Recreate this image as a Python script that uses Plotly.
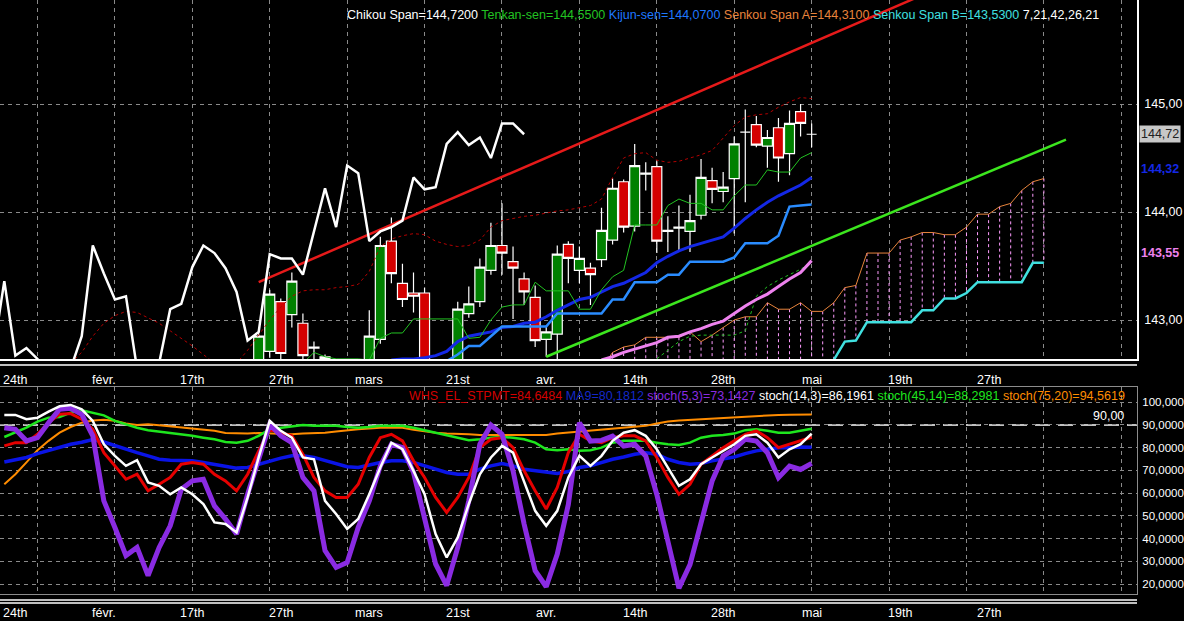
import plotly.graph_objects as go

# ---------------- price panel (x = bar number) ----------------
first_bar = 23
opens = [142.55, 142.71, 143.17, 143.05, 142.97, 142.75, 142.66, 142.55, 142.45, 142.50,
         142.50, 142.82, 143.73, 143.34, 143.25, 143.25, 142.55, 142.50, 142.55, 143.06,
         143.17, 143.46, 143.69, 143.54, 143.38, 143.21, 142.82, 142.87, 143.70, 143.46,
         143.48, 143.56, 143.74, 144.28, 143.87, 144.35, 144.42, 143.83, 143.85, 143.82,
         143.97, 144.29, 144.19, 144.31, 144.74, 144.81, 144.61, 144.78, 144.54, 144.93,
         144.72]
highs = [142.90, 143.28, 143.20, 143.44, 143.06, 142.80, 142.68, 142.60, 142.58, 142.62,
         143.09, 143.77, 143.95, 143.52, 143.44, 143.30, 142.62, 142.63, 143.17, 143.31,
         143.57, 143.90, 144.08, 143.68, 143.44, 143.32, 142.95, 143.69, 143.73, 143.68,
         143.53, 144.04, 144.31, 144.30, 144.63, 144.46, 144.47, 143.96, 144.06, 144.16,
         144.49, 144.41, 144.37, 144.70, 144.95, 144.89, 144.76, 144.87, 144.94, 145.00,
         144.82]
lows = [142.50, 142.65, 142.62, 142.93, 142.60, 142.62, 142.55, 142.40, 142.35, 142.40,
        142.45, 142.78, 143.34, 143.12, 143.07, 142.45, 142.40, 142.45, 142.50, 143.02,
        143.12, 143.42, 143.42, 143.01, 143.14, 142.75, 142.66, 142.62, 143.34, 143.34,
        143.14, 143.49, 143.70, 143.81, 143.82, 144.20, 143.62, 143.63, 143.63, 143.63,
        143.93, 144.08, 144.09, 143.80, 144.09, 144.60, 144.41, 144.28, 144.34, 144.70,
        144.60]
closes = [142.85, 143.24, 142.69, 143.36, 142.67, 142.74, 142.64, 142.45, 142.50, 142.55,
          142.85, 143.69, 143.43, 143.19, 143.22, 142.55, 142.50, 142.60, 143.10, 143.15,
          143.49, 143.69, 143.62, 143.48, 143.26, 142.81, 142.89, 143.61, 143.57, 143.57,
          143.42, 143.83, 144.22, 143.86, 144.43, 144.36, 143.73, 143.82, 143.86, 143.92,
          144.32, 144.21, 144.23, 144.63, 144.74, 144.62, 144.69, 144.50, 144.82, 144.82,
          144.72]
chikou_lag = 26

tenkan_start = 26
tenkan = [142.55, 142.60, 142.70, 142.66, 142.64, 142.64, 142.64, 142.63,
          142.83, 142.88, 142.88, 143.01, 143.01, 143.01, 143.01, 143.01,
          142.83, 142.84, 143.00, 143.12, 143.14, 143.14, 143.35, 143.27,
          143.27, 143.27, 143.10, 143.10, 143.28, 143.40, 143.46, 143.88,
          143.88, 143.88, 144.06, 144.12, 144.08, 144.08, 144.02, 144.02,
          144.15, 144.25, 144.25, 144.39, 144.37, 144.37, 144.50, 144.55]
kijun_start = 38
kijun = [142.55, 142.58, 142.62, 142.68, 142.76, 142.76, 142.85, 142.94,
         142.94, 142.94, 142.94, 142.94, 143.06, 143.06, 143.06, 143.06,
         143.06, 143.19, 143.19, 143.35, 143.35, 143.35, 143.42, 143.42,
         143.54, 143.54, 143.54, 143.54, 143.58, 143.71, 143.71, 143.71,
         143.78, 144.05, 144.06, 144.07]
ma_blue_start = 35
ma_blue = [142.63, 142.64, 142.64, 142.65, 142.67, 142.71, 142.80, 142.85,
           142.87, 142.89, 142.93, 142.94, 142.97, 142.98, 143.03, 143.09,
           143.14, 143.19, 143.21, 143.26, 143.31, 143.34, 143.39, 143.44,
           143.53, 143.59, 143.64, 143.68, 143.71, 143.74, 143.77, 143.85,
           143.94, 144.02, 144.09, 144.15, 144.20, 144.25, 144.32]
ma_pink_start = 54
ma_pink = [142.63, 142.66, 142.70, 142.73, 142.76, 142.79, 142.84, 142.85, 142.89, 142.92,
           142.96, 142.99, 143.06, 143.13, 143.19, 143.24, 143.31, 143.38, 143.44, 143.55]
band_red_start = 6
band_red = [142.60, 142.70, 142.85, 142.97, 143.04, 143.08, 143.07, 143.02,
            142.97, 142.90, 142.83, 142.76, 142.68, 142.60, 142.55, 142.60,
            142.72, 142.86, 143.00, 143.12, 143.22, 143.27, 143.28, 143.28,
            143.30, 143.31, 143.33, 143.45, 143.68, 143.75, 143.78, 143.80,
            143.79, 143.73, 143.70, 143.68, 143.69, 143.74, 143.86, 143.92,
            143.94, 143.96, 143.97, 143.99, 144.01, 144.02, 144.04, 144.06,
            144.12, 144.32, 144.50, 144.54, 144.55, 144.48, 144.46, 144.47,
            144.50, 144.53, 144.57, 144.68, 144.80, 144.88, 144.90, 144.91,
            144.97, 145.02, 145.06, 145.05]
band_green_start = 58
band_green = [142.60, 142.64, 142.72, 142.80, 142.85, 142.86, 142.86, 142.86,
              142.86, 142.90, 143.22, 143.31, 143.37, 143.42, 143.47, 143.53]
senkou_a_start = 54
senkou_a = [142.55, 142.70, 142.75, 142.77, 142.84, 142.84, 142.84, 142.84,
            142.89, 142.80, 142.86, 142.93, 143.00, 143.03, 143.03, 143.16,
            143.10, 143.10, 143.16, 143.08, 143.08, 143.16, 143.30, 143.32,
            143.62, 143.62, 143.62, 143.74, 143.77, 143.81, 143.81, 143.79,
            143.79, 143.86, 143.98, 143.98, 144.05, 144.08, 144.20, 144.28, 144.31]
senkou_b_start = 74
senkou_b = [142.50, 142.63, 142.80, 142.81, 142.98, 142.98, 142.98, 142.98, 142.98,
            143.09, 143.09, 143.20, 143.20, 143.25, 143.35, 143.35, 143.35, 143.35,
            143.35, 143.53, 143.53]

red_trend_x = [23, 95]
red_trend_y = [143.35, 146.54]
green_trend_x = [49, 96]
green_trend_y = [142.66, 144.67]

# ---------------- oscillator panel (bars 0..73) ----------------
stpmt = [80.8, 82.2, 82.2, 85.9, 91.0, 94.7, 95.0, 92.5, 88.1, 77.8,
         72.0, 66.1, 68.3, 61.0, 63.9, 66.9, 72.7, 73.5, 72.7, 68.3,
         65.4, 61.0, 68.3, 78.6, 88.1, 86.6, 85.2, 77.1, 66.9, 61.0,
         58.1, 58.1, 63.9, 75.7, 84.4, 85.9, 83.0, 74.2, 66.9, 58.1,
         51.5, 58.1, 66.9, 80.0, 83.7, 84.4, 80.0, 69.8, 61.0, 53.0,
         62.5, 77.8, 85.9, 83.0, 82.2, 84.4, 85.2, 85.2, 83.0, 75.7,
         66.9, 59.5, 63.9, 72.7, 76.4, 80.0, 83.0, 85.9, 87.4, 84.4,
         80.0, 81.5, 83.0, 84.6]
ma9 = [73.7, 74.9, 75.7, 77.4, 78.9, 80.3, 81.5, 82.4, 83.6, 82.5,
       80.8, 79.3, 77.8, 76.4, 74.9, 74.5, 74.2, 74.2, 73.5, 72.7,
       72.0, 71.0, 71.3, 72.7, 74.2, 75.4, 76.4, 76.4, 75.7, 74.2,
       72.7, 71.6, 71.3, 72.4, 73.5, 74.2, 74.2, 73.5, 72.0, 70.5,
       69.1, 68.3, 68.3, 70.5, 72.0, 73.0, 72.0, 70.5, 69.8, 69.1,
       68.6, 69.5, 71.3, 72.0, 73.5, 74.9, 75.9, 77.1, 77.8, 77.1,
       74.9, 73.5, 72.7, 73.0, 74.2, 74.9, 75.9, 77.4, 78.6, 79.3,
       80.0, 80.0, 80.3, 80.2]
stoch_5_3 = [88.8, 88.1, 83.0, 84.4, 91.0, 96.9, 97.3, 94.7, 85.2, 56.6,
             44.9, 32.5, 36.1, 23.7, 36.1, 45.6, 61.7, 65.4, 66.1, 54.4,
             48.6, 42.0, 59.5, 74.2, 90.3, 85.2, 82.2, 66.9, 61.0, 34.7,
             27.3, 29.5, 44.9, 56.6, 72.0, 81.5, 80.0, 69.1, 49.3, 28.8,
             19.3, 36.1, 56.6, 81.5, 89.9, 85.9, 69.8, 46.4, 25.9, 18.8,
             33.2, 55.0, 91.0, 82.9, 83.2, 85.1, 80.7, 81.5, 76.3, 59.4,
             38.8, 18.2, 28.5, 46.2, 65.3, 76.3, 79.3, 83.7, 82.9, 77.8,
             66.8, 71.9, 70.4, 73.1]
stoch_14_3 = [94.4, 94.4, 92.5, 93.2, 95.9, 98.2, 98.8, 96.9, 91.8, 81.5,
              76.4, 72.0, 74.5, 64.7, 63.2, 59.5, 62.5, 59.5, 55.2, 47.1,
              46.4, 42.7, 58.1, 75.7, 91.8, 87.4, 84.4, 75.7, 74.9, 56.6,
              50.8, 44.2, 48.6, 59.5, 71.3, 82.2, 79.3, 69.8, 59.5, 42.0,
              31.7, 40.5, 55.2, 68.3, 75.7, 80.8, 77.8, 65.4, 52.2, 45.6,
              52.2, 66.9, 76.4, 72.0, 76.4, 83.0, 86.6, 87.7, 85.2, 79.3,
              71.3, 63.2, 66.1, 72.7, 75.7, 78.6, 81.5, 85.2, 85.9, 82.2,
              75.7, 79.3, 81.5, 86.2]
stoch_45_14 = [84.7, 86.9, 88.8, 91.5, 93.2, 93.5, 95.4, 96.4, 95.4, 94.2,
               91.8, 90.3, 88.8, 87.7, 87.1, 86.6, 85.9, 85.2, 84.4, 83.7,
               82.5, 82.2, 83.0, 85.2, 88.1, 88.8, 89.6, 90.0, 89.6, 89.6,
               89.6, 89.1, 88.8, 89.1, 89.6, 89.6, 89.6, 88.8, 87.7, 86.6,
               85.2, 84.4, 83.3, 83.7, 84.4, 84.7, 84.4, 83.7, 82.2, 79.3,
               78.9, 79.3, 78.6, 78.9, 80.0, 82.2, 83.0, 83.0, 83.0, 82.2,
               81.5, 81.2, 82.2, 84.4, 85.2, 85.6, 86.2, 87.7, 88.1, 87.4,
               86.6, 86.6, 87.4, 88.3]
stoch_75_20 = [63.9, 68.3, 73.5, 78.9, 83.0, 86.6, 89.1, 91.0, 92.0, 92.3,
               91.8, 90.6, 90.0, 90.3, 89.9, 89.4, 88.8, 88.4, 87.9, 87.4,
               86.5, 86.2, 86.2, 86.5, 86.3, 85.9, 85.9, 86.2, 86.3, 86.6,
               87.1, 87.7, 88.1, 88.4, 88.8, 88.8, 88.8, 87.9, 87.1, 86.6,
               86.2, 86.2, 85.9, 85.6, 85.6, 85.6, 85.9, 85.6, 85.6, 85.6,
               86.2, 86.6, 87.1, 87.4, 88.1, 88.4, 88.8, 89.1, 89.6, 90.6,
               91.5, 92.0, 92.3, 92.6, 92.9, 93.2, 93.5, 93.8, 94.1, 94.4,
               94.4, 94.5, 94.7, 94.6]
stoch_level = 90

# ---------------- axis text ----------------
date_ticks = [1, 9, 17, 25, 33, 41, 49, 57, 65, 73, 81, 89]
date_labels = ["24th", "févr.", "17th", "27th", "mars", "21st", "avr.",
               "14th", "28th", "mai", "19th", "27th"]
grid_bars = list(range(3, 102, 7))
price_ticks = [143, 144, 145]
price_labels = ["143,00", "144,00", "145,00"]
osc_ticks = [20, 30, 40, 50, 60, 70, 80, 90, 100]
osc_labels = ["20,0000", "30,0000", "40,0000", "50,0000", "60,0000",
              "70,0000", "80,0000", "90,0000", "100,000"]

x_range = [-0.39, 102.42]
price_range = [142.639, 145.963]
osc_range = [15.6, 106.7]

FONT = "Liberation Sans, Arial, sans-serif"
GRID = "#8a8a8a"


def span(start, values):
    return list(range(start, start + len(values)))


def line(x, y, color, width, axis="", dash="solid"):
    return go.Scatter(x=x, y=y, mode="lines", xaxis="x" + axis, yaxis="y" + axis,
                      line=dict(color=color, width=width, dash=dash), hoverinfo="skip")


bars = span(first_bar, closes)

cloud_x, cloud_y = [], []
for k, a in enumerate(senkou_a):
    i = senkou_a_start + k
    if a <= price_range[0]:
        continue
    b = senkou_b[i - senkou_b_start] if i >= senkou_b_start else price_range[0]
    cloud_x += [i, i, None]
    cloud_y += [a, b, None]

fig = go.Figure()

fig.add_trace(go.Candlestick(
    x=bars, open=opens, high=highs, low=lows, close=closes,
    increasing=dict(fillcolor="#008000", line=dict(color="white", width=1.2)),
    decreasing=dict(fillcolor="#d40000", line=dict(color="white", width=1.2)),
    whiskerwidth=0, hoverinfo="skip"))

fig.add_trace(line(cloud_x, cloud_y, "#ff9cff", 1, dash="3px,3px"))
fig.add_trace(line(span(senkou_a_start, senkou_a), senkou_a, "#e8843c", 1))
fig.add_trace(line(span(senkou_b_start, senkou_b), senkou_b, "#40e0e0", 2.5))
fig.add_trace(line(span(band_green_start, band_green), band_green, "#20c020", 1, dash="3px,3px"))
fig.add_trace(line(span(band_red_start, band_red), band_red, "#b40000", 1, dash="3px,3px"))
fig.add_trace(line(span(ma_pink_start, ma_pink), ma_pink, "#ee82ee", 3))
fig.add_trace(line(span(ma_blue_start, ma_blue), ma_blue, "#1428e6", 3))
fig.add_trace(line(span(kijun_start, kijun), kijun, "#2a8cff", 2.5))
fig.add_trace(line(span(tenkan_start, tenkan), tenkan, "#22c322", 1))
fig.add_trace(line(red_trend_x, red_trend_y, "#e61a1a", 2.5))
fig.add_trace(line(green_trend_x, green_trend_y, "#3ce61e", 2.5))
fig.add_trace(line([b - chikou_lag for b in bars], closes, "white", 2.5))

osc_x = span(0, stpmt)
fig.add_trace(line(osc_x, stoch_75_20, "#ff8c00", 2, "2"))
fig.add_trace(line(osc_x, stoch_45_14, "#1ee61e", 2.5, "2"))
fig.add_trace(line(osc_x, ma9, "#0a14e6", 3.5, "2"))
fig.add_trace(line(osc_x, stpmt, "#e60000", 3, "2"))
fig.add_trace(line(osc_x, stoch_5_3, "#8a2be2", 5, "2"))
fig.add_trace(line(osc_x, stoch_14_3, "white", 2.5, "2"))

W, H = 1184, 621
axis_common = dict(range=x_range, tickvals=grid_bars, showticklabels=False, ticks="",
                   showgrid=True, gridcolor=GRID, griddash="4px,4px", gridwidth=1,
                   zeroline=False, automargin=False)
fig.update_layout(
    width=W, height=H,
    margin=dict(l=0, r=47, t=0, b=0, autoexpand=False),
    paper_bgcolor="black", plot_bgcolor="black",
    font=dict(family=FONT, color="white", size=12.5),
    showlegend=False,
    boxgap=0.05, boxgroupgap=0.05,
    xaxis=dict(domain=[0, 1], anchor="y", rangeslider=dict(visible=False),
               showline=True, linecolor="white", linewidth=1.5, **axis_common),
    yaxis=dict(domain=[1 - 359 / H, 1], anchor="x", side="right", range=price_range,
               tickvals=price_ticks, ticktext=price_labels, ticks="",
               ticklabelstandoff=3, automargin=False,
               showgrid=True, gridcolor=GRID, griddash="4px,4px", zeroline=False,
               showline=True, linecolor="white", linewidth=1.5,
               tickfont=dict(color="white", size=12.5)),
    xaxis2=dict(domain=[0, 1], anchor="y2", matches="x", showline=True, mirror=True,
                linecolor="#8c8c8c", linewidth=1, **axis_common),
    yaxis2=dict(domain=[1 - 594 / H, 1 - 387 / H], anchor="x2", side="right",
                range=osc_range, tickvals=osc_ticks, ticktext=osc_labels, ticks="",
                ticklabelstandoff=2, automargin=False,
                showgrid=True, gridcolor=GRID, griddash="4px,4px", zeroline=False,
                showline=True, linecolor="#8c8c8c", linewidth=1,
                tickfont=dict(color="white", size=11.5)),
)

# panel frames and the 90 level
for yp in [1 - 365 / H, 1 - 600 / H, 1 - 603 / H]:
    fig.add_shape(type="line", xref="paper", yref="paper", x0=0, x1=1, y0=yp, y1=yp,
                  line=dict(color="white", width=1.5))
fig.add_shape(type="line", xref="x2 domain", yref="y2", x0=0, x1=1,
              y0=stoch_level, y1=stoch_level, line=dict(color="white", width=1.5, dash="15px,8px"),
              layer="below")

# date labels under each panel
for t, lab in zip(date_ticks, date_labels):
    fig.add_annotation(x=t, y=1 - 380 / H, xref="x", yref="paper", text=lab,
                       showarrow=False, font=dict(color="white", size=12.5))
    fig.add_annotation(x=t, y=0, xref="x", yref="paper", text=lab,
                       showarrow=False, yanchor="bottom", borderpad=0,
                       font=dict(color="white", size=12.5,
                                 family="Liberation Sans Narrow, " + FONT))

# indicator legends
top_legend = ("<span style='color:white'>Chikou Span=144,7200</span> "
              "<span style='color:#22c322'>Tenkan-sen=144,5500</span> "
              "<span style='color:#1e78ff'>Kijun-sen=144,0700</span> "
              "<span style='color:#e8843c'>Senkou Span A=144,3100</span> "
              "<span style='color:#40e0e0'>Senkou Span B=143,5300</span> "
              "<span style='color:white'>7,21,42,26,21</span>")
fig.add_annotation(x=345 / 1137, y=1 - 15 / H, xref="paper", yref="paper", text=top_legend,
                   xanchor="left", yanchor="middle", showarrow=False, font=dict(size=12.5))
osc_legend = ("<span style='color:#d40000'>WHS_EL_STPMT=84,6484</span> "
              "<span style='color:#1428c8'>MA9=80,1812</span> "
              "<span style='color:#8a2be2'>stoch(5,3)=73,1427</span> "
              "<span style='color:white'>stoch(14,3)=86,1961</span> "
              "<span style='color:#1ee61e'>stoch(45,14)=88,2981</span> "
              "<span style='color:#ff8c00'>stoch(75,20)=94,5619</span>")
fig.add_annotation(x=1127 / 1137, y=1 - 396 / H, xref="paper", yref="paper", text=osc_legend,
                   xanchor="right", yanchor="middle", showarrow=False, font=dict(size=12.5))
fig.add_annotation(x=1126 / 1137, y=stoch_level, xref="paper", yref="y2", text="90,00",
                   xanchor="right", yanchor="bottom", showarrow=False,
                   font=dict(color="white", size=12.5))

# last-value tags on the price scale
fig.add_annotation(x=1 + 2 / 1137, y=closes[-1], xref="paper", yref="y", text="144,72",
                   xanchor="left", showarrow=False, bgcolor="#c8c8c8",
                   font=dict(color="#202020", size=12.5), borderpad=1)
fig.add_annotation(x=1 + 2 / 1137, y=ma_blue[-1], xref="paper", yref="y", text="<b>144,32</b>",
                   xanchor="left", showarrow=False, yshift=8,
                   font=dict(color="#1428e6", size=12.5))
fig.add_annotation(x=1 + 2 / 1137, y=ma_pink[-1], xref="paper", yref="y", text="<b>143,55</b>",
                   xanchor="left", showarrow=False, yshift=8,
                   font=dict(color="#ee82ee", size=12.5))

# page has no body margin, so the figure fills the window like the original
fig.write_html("out.html", config={"displayModeBar": False},
               post_script="document.body.style.margin='0';"
                           "document.body.style.overflow='hidden';"
                           "document.body.style.background='black';")
